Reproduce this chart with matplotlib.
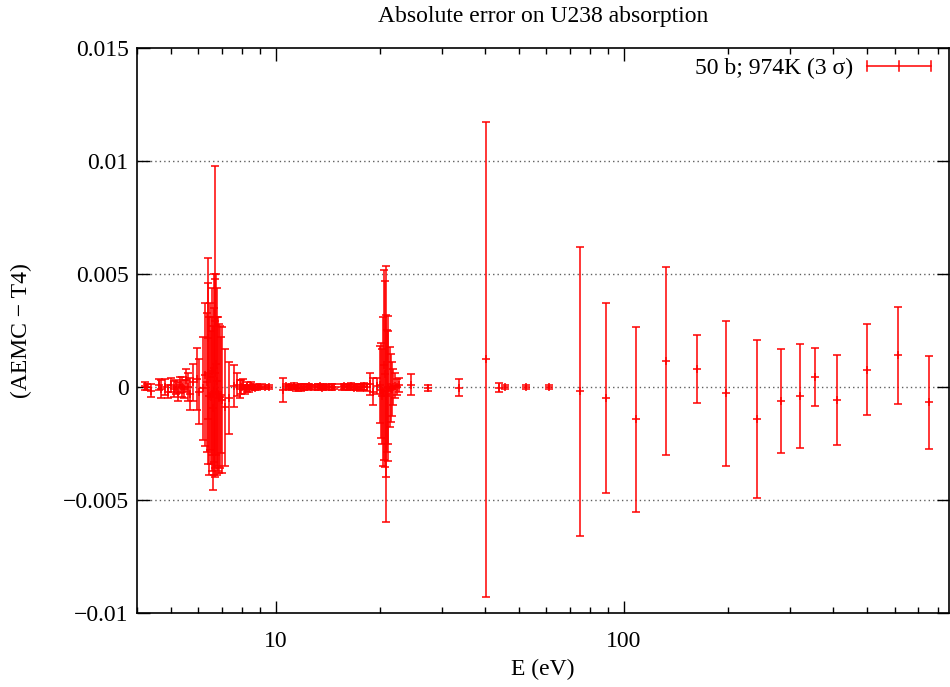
import matplotlib
matplotlib.use("Agg")
import matplotlib.pyplot as plt
from matplotlib.legend_handler import HandlerBase
from matplotlib.lines import Line2D
from matplotlib.container import ErrorbarContainer
from matplotlib.ticker import LogLocator, NullFormatter, FixedLocator, FixedFormatter

# Energy group (eV), absolute error AEMC - T4, and 3-sigma uncertainty
energy_ev = [
    4.21, 4.28, 4.38, 4.62, 4.70, 4.82, 4.92, 5.02, 5.10, 5.18,
    5.25, 5.32, 5.40, 5.47, 5.53, 5.60, 5.68, 5.78, 5.93, 6.02,
    6.20, 6.26, 6.34, 6.38, 6.41, 6.45, 6.48, 6.52, 6.55, 6.58,
    6.62, 6.64, 6.67, 6.69, 6.72, 6.75, 6.77, 6.80, 6.84, 6.88,
    6.92, 6.96, 7.02, 7.18, 7.36, 7.60,
    7.75, 7.88, 7.98, 8.08, 8.18, 8.30, 8.40, 8.50, 8.60, 8.75,
    8.90, 9.05, 9.30, 9.55,
    10.5, 10.75, 10.95, 11.1, 11.3, 11.45, 11.6, 11.8, 11.95, 12.1,
    12.3, 12.5, 12.65, 13.0, 13.2, 13.4, 13.6, 13.8, 14.0, 14.25,
    14.5, 14.75, 15.5, 15.75, 16.0, 16.25, 16.5, 16.75, 17.0, 17.25,
    17.5, 17.75, 18.0, 18.3,
    18.7, 19.1, 19.5, 19.9, 20.1, 20.25, 20.4, 20.5, 20.6, 20.7,
    20.8, 20.9, 21.0, 21.1, 21.25, 21.4, 21.55, 21.75, 22.0, 22.3,
    22.7,
    24.5, 27.5, 33.6, 40.1, 43.75, 45.7, 52.4, 61.2,
    74.9, 88.7, 108.4, 132.3, 162.1, 197.3, 241.0, 283.0, 320.0, 354.0,
    410.0, 501.0, 613.0, 751.0,
]

abs_error = [
    0.00005, 0.00000, -0.00016, 0.00010, -0.00010, 0.00000, -0.00020, 0.00010, -0.00010, 0.00000,
    -0.00020, 0.00010, 0.00000, -0.00010, 0.00030, 0.00000, -0.00030, 0.00020, 0.00035, -0.00020,
    -0.00006, 0.00055, 0.00020, 0.00215, 0.00060, -0.00040, 0.00045, -0.00045, -0.00030, 0.00070,
    -0.00093, 0.00085, -0.00020, 0.00290, 0.00060, 0.00100, 0.00025, -0.00020, -0.00030, -0.00050,
    -0.00045, -0.00035, -0.00057, -0.00090, -0.00050, 0.00004,
    0.00010, -0.00010, 0.00000, 0.00010, -0.00010, 0.00000, -0.00005, 0.00005, 0.00000, -0.00003,
    0.00000, 0.00002, 0.00000, 0.00000,
    -0.00013, 0.00003, -0.00002, 0.00000, 0.00004, -0.00005, 0.00000, -0.00003, 0.00002, 0.00000,
    -0.00002, 0.00003, 0.00000, -0.00002, 0.00000, 0.00003, -0.00003, 0.00000, 0.00002, -0.00002,
    0.00000, 0.00002, 0.00000, 0.00003, -0.00002, 0.00000, 0.00004, -0.00003, 0.00000, 0.00002,
    -0.00002, 0.00000, 0.00003, -0.00002,
    0.00013, -0.00020, 0.00005, 0.00010, -0.00015, -0.00040, -0.00020, 0.00096, 0.00058, -0.00040,
    -0.00030, -0.00017, -0.00006, 0.00000, 0.00000, -0.00005, -0.00010, 0.00000, 0.00005, 0.00000,
    0.00009,
    0.00010, -0.00004, -0.00004, 0.00122, -0.00004, 0.00000, 0.00000, 0.00000,
    -0.00019, -0.00047, -0.00143, 0.00116, 0.00078, -0.00028, -0.00143, -0.00061, -0.00038, 0.00043,
    -0.00059, 0.00077, 0.00140, -0.00068,
]

sigma3 = [
    0.00017, 0.00012, 0.00030, 0.00025, 0.00040, 0.00035, 0.00030, 0.00030, 0.00035, 0.00030,
    0.00040, 0.00035, 0.00045, 0.00040, 0.00050, 0.00060, 0.00070, 0.00080, 0.00137, 0.00145,
    0.00229, 0.00315, 0.00306, 0.00355, 0.00400, 0.00350, 0.00325, 0.00295, 0.00340, 0.00370,
    0.00363, 0.00415, 0.00370, 0.00690, 0.00420, 0.00400, 0.00415, 0.00330, 0.00340, 0.00330,
    0.00315, 0.00255, 0.00323, 0.00260, 0.00160, 0.00094,
    0.00050, 0.00040, 0.00030, 0.00025, 0.00020, 0.00020, 0.00015, 0.00015, 0.00012, 0.00010,
    0.00010, 0.00010, 0.00010, 0.00010,
    0.00052, 0.00010, 0.00012, 0.00010, 0.00013, 0.00012, 0.00010, 0.00015, 0.00010, 0.00012,
    0.00010, 0.00012, 0.00010, 0.00010, 0.00012, 0.00010, 0.00012, 0.00010, 0.00011, 0.00010,
    0.00012, 0.00010, 0.00012, 0.00010, 0.00013, 0.00012, 0.00014, 0.00012, 0.00015, 0.00013,
    0.00015, 0.00014, 0.00016, 0.00015,
    0.00048, 0.00060, 0.00035, 0.00170, 0.00210, 0.00210, 0.00330, 0.00420, 0.00410, 0.00360,
    0.00567, 0.00270, 0.00320, 0.00250, 0.00177, 0.00150, 0.00120, 0.00080, 0.00055, 0.00037,
    0.00029,
    0.00046, 0.00015, 0.00038, 0.01050, 0.00020, 0.00010, 0.00010, 0.00010,
    0.00640, 0.00420, 0.00410, 0.00416, 0.00150, 0.00320, 0.00350, 0.00230, 0.00230, 0.00128,
    0.00199, 0.00200, 0.00215, 0.00205,
]

series_label = "50 b; 974K (3 \u03c3)"
title_text = "Absolute error on U238 absorption"
x_label = "E (eV)"
y_label = "(AEMC \u2212 T4)"
x_limits = (4.0, 860.0)
y_limits = (-0.01, 0.015)
x_major_ticks = [10, 100]
x_major_labels = ["10", "100"]
y_major_ticks = [-0.01, -0.005, 0.0, 0.005, 0.01, 0.015]
y_major_labels = ["\u22120.01", "\u22120.005", "0", "0.005", "0.01", "0.015"]
grid_levels = [-0.005, 0.0, 0.005, 0.01]

RED = "#ff0000"
FS = 17


class HorizontalErrorHandle(HandlerBase):
    """Legend key drawn as a horizontal bar with end caps and a centre tick."""

    def create_artists(self, legend, orig_handle, xdescent, ydescent,
                       width, height, fontsize, trans):
        x0 = -xdescent
        x1 = -xdescent + width
        cy = (height - ydescent) / 2.0
        cap = 0.3 * height
        xm = 0.5 * (x0 + x1)
        kw = dict(color=RED, lw=1.1, transform=trans)
        return [
            Line2D([x0, x1], [cy, cy], **kw),
            Line2D([x0, x0], [cy - cap, cy + cap], **kw),
            Line2D([x1, x1], [cy - cap, cy + cap], **kw),
            Line2D([xm, xm], [cy - cap, cy + cap], **kw),
        ]


plt.rcParams['font.family'] = ['Liberation Serif', 'DejaVu Serif']

fig = plt.figure(figsize=(9.5, 6.87), dpi=100)
left_px, right_px, top_px, bottom_px = 137, 949, 48, 613
ax = fig.add_axes([left_px / 950, 1 - bottom_px / 687,
                   (right_px - left_px) / 950, (bottom_px - top_px) / 687])

for lvl in grid_levels:
    ax.axhline(lvl, color="#606060", lw=1.0, dashes=(1, 2.2), zorder=0)

eb = ax.errorbar(energy_ev, abs_error, yerr=sigma3, fmt='+', color=RED,
                 ms=6, mew=1.1, elinewidth=1.1, capsize=3, capthick=1.1,
                 zorder=3, label=series_label)

ax.set_xscale('log')
ax.set_xlim(*x_limits)
ax.set_ylim(*y_limits)

ax.xaxis.set_major_locator(FixedLocator(x_major_ticks))
ax.xaxis.set_major_formatter(FixedFormatter(x_major_labels))
ax.xaxis.set_minor_locator(LogLocator(base=10, subs=range(2, 10), numticks=20))
ax.xaxis.set_minor_formatter(NullFormatter())
ax.yaxis.set_major_locator(FixedLocator(y_major_ticks))
ax.yaxis.set_major_formatter(FixedFormatter(y_major_labels))

ax.tick_params(which='both', direction='in', top=True, right=True,
               width=1.0, color='black', labelsize=FS)
ax.tick_params(which='major', length=9)
ax.tick_params(which='minor', length=4.5)
ax.tick_params(axis='x', which='major', pad=13)
ax.tick_params(axis='y', which='major', pad=6)

for sp in ax.spines.values():
    sp.set_linewidth(1.2)

ax.set_title(title_text, fontsize=FS, pad=19)
ax.set_xlabel(x_label, fontsize=FS, labelpad=5)
ax.set_ylabel(y_label, fontsize=FS, labelpad=22)

ax.legend(handles=[eb], labels=[series_label],
          handler_map={ErrorbarContainer: HorizontalErrorHandle()},
          loc='upper right', bbox_to_anchor=(1 - 18 / 812, 1 - 10 / 565),
          frameon=False, markerfirst=False, fontsize=FS,
          handlelength=2.7, handletextpad=0.6, borderpad=0, borderaxespad=0)

fig.savefig("out.png", dpi=100)
